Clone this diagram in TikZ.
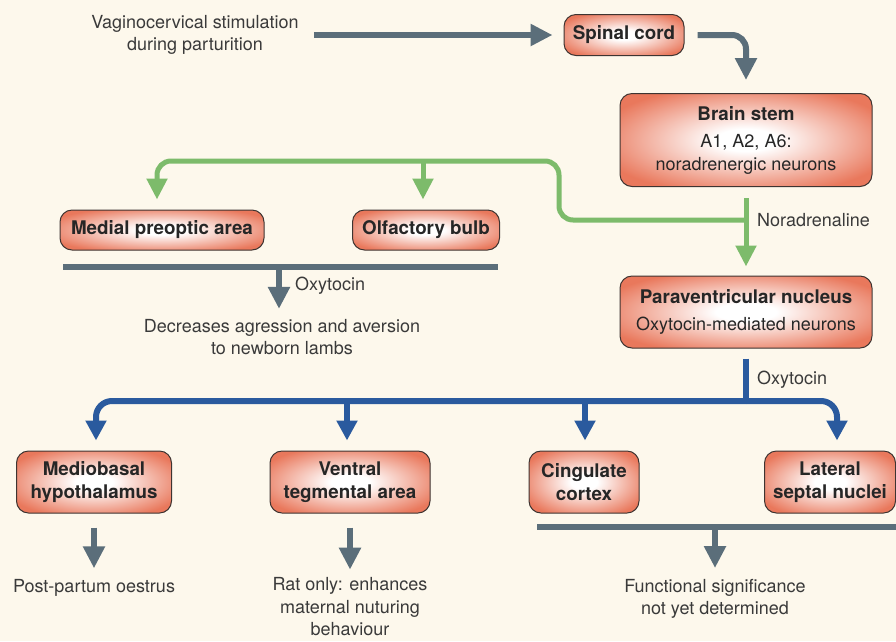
\documentclass[tikz,border=0pt]{standalone}
\usepackage{fontspec}
\setmainfont{TeX Gyre Heros}
\usepackage{tikz}
\usetikzlibrary{arrows.meta}
\usepackage{xcolor}

\definecolor{bgcream}{HTML}{FDF8EC}
\definecolor{salmonedge}{HTML}{E9785C}
\definecolor{boxline}{HTML}{3E3431}
\definecolor{slate}{HTML}{5B6E7A}
\definecolor{leafgreen}{HTML}{7DBB6B}
\definecolor{deepblue}{HTML}{2A5A9E}
\definecolor{txtc}{HTML}{3A3A3A}

\pgfdeclareradialshading{regionshade}{\pgfpoint{0bp}{0bp}}{%
  color(0bp)=(white); color(6bp)=(white); color(30bp)=(salmonedge); color(50bp)=(salmonedge)}

\newcommand{\diagfont}{\fontsize{18}{22.5}\selectfont}
\newcommand{\titlefont}{\fontsize{18.8}{22.5}\selectfont\bfseries}

\begin{document}
\begin{tikzpicture}[x=1pt, y=-1pt,
                  region/.style={draw=boxline, line width=1pt, rounded corners=12pt,
                                 shading=regionshade, align=center, text=black!85,
                                 font=\titlefont, inner sep=2pt},
                  txt/.style={align=center, text=txtc, font=\diagfont, inner sep=0pt},
                  garr/.style={slate, line width=6pt, -{Triangle[width=21pt, length=22pt]}},
                  gbar/.style={slate, line width=6pt},
                  grarr/.style={leafgreen, line width=5pt, -{Triangle[width=20pt, length=21pt]}},
                  bline/.style={deepblue, line width=6pt},
                  barr/.style={deepblue, line width=6pt, -{Triangle[width=20pt, length=20pt]}},
            ]

            % ---- background ----
            \fill[bgcream] (0,0) rectangle (896,641);
            \useasboundingbox (0,0) rectangle (896,641);

            % ---- top row ----
            \node[txt] (stim) at (195,35) {Vaginocervical stimulation\\during parturition};
            \node[region, minimum width=120, minimum height=41] (spinal) at (624,35) {Spinal cord};
            \node[region, minimum width=252, minimum height=93] (brain) at (746,140)
                  {Brain stem\\[5pt]{\diagfont\mdseries A1, A2, A6:}\\{\diagfont\mdseries noradrenergic neurons}};

            % ---- green targets ----
            \node[region, minimum width=204, minimum height=40] (mpoa) at (162,230) {Medial preoptic area};
            \node[region, minimum width=147, minimum height=40] (olf) at (426,230) {Olfactory bulb};
            \node[region, minimum width=252, minimum height=72] (pvn) at (746,312)
                  {Paraventricular nucleus\\[5pt]{\diagfont\mdseries Oxytocin-mediated neurons}};

            \node[txt] (dec) at (282,337) {Decreases agression and aversion\\to newborn lambs};

            % ---- blue targets ----
            \node[region, minimum width=155, minimum height=62] (mbh) at (94,482) {Mediobasal\\hypothalamus};
            \node[region, minimum width=160, minimum height=62] (vta) at (350,482) {Ventral\\tegmental area};
            \node[region, minimum width=110, minimum height=62] (cc) at (584,482) {Cingulate\\cortex};
            \node[region, minimum width=131, minimum height=62] (lsn) at (830,482) {Lateral\\septal nuclei};

            \node[txt] (pp) at (94,588) {Post-partum oestrus};
            \node[txt] (rat) at (350,607) {Rat only: enhances\\maternal nuturing\\behaviour};
            \node[txt] (func) at (715,599) {Functional significance\\not yet determined};

            % ---- gray connectors ----
            \draw[garr, shorten <=15pt, shorten >=11pt] (stim.east |- spinal) -- (spinal.west);
            \draw[garr, rounded corners=14pt, shorten <=13pt, shorten >=13pt] (spinal.east) -| (brain.north);

            % ---- green connectors ----
            \coordinate (na) at (746,220);
            \coordinate (gtop) at (559,161);
            \draw[grarr, shorten <=11pt, shorten >=9pt] (brain.south) -- (pvn.north);
            \draw[grarr, rounded corners=14pt, shorten >=10pt] (na) -| (gtop) -| ([xshift=-5pt]mpoa.north);
            \draw[grarr, shorten >=10pt] ([xshift=-3pt]olf.north |- gtop) -- ([xshift=-3pt]olf.north);
            \node[txt, anchor=west] (nalbl) at ([xshift=11pt]na) {Noradrenaline};

            % ---- gray bar under MPOA / olfactory bulb ----
            \coordinate (bar1l) at (63,267);
            \coordinate (bar1r) at (498,267);
            \coordinate (bar1m) at (279,267);
            \draw[gbar] (bar1l) -- (bar1r);
            \draw[garr, shorten >=10pt] (bar1m) -- (bar1m |- dec.north);
            \node[txt, anchor=west] (oxy1) at (295,286) {Oxytocin};

            % ---- blue connectors ----
            \coordinate (bj) at (746,401);
            \draw[bline, shorten <=10pt] (pvn.south) -- (bj);
            \draw[barr, rounded corners=16pt, shorten >=10pt] (bj) -| ([xshift=2pt]mbh.north);
            \draw[barr, rounded corners=16pt, shorten >=10pt] (bj) -| ([xshift=7pt]lsn.north);
            \draw[barr, shorten >=10pt] ([xshift=-3pt]vta.north |- bj) -- ([xshift=-3pt]vta.north);
            \draw[barr, shorten >=10pt] ([xshift=1pt]cc.north |- bj) -- ([xshift=1pt]cc.north);
            \node[txt, anchor=west] (oxy2) at (757,380) {Oxytocin};

            % ---- lower gray arrows ----
            \draw[garr, shorten <=14pt, shorten >=11pt] (mbh.south) -- (mbh.south |- pp.north);
            \draw[garr, shorten <=14pt, shorten >=8pt] (vta.south) -- (vta.south |- rat.north);
            \coordinate (bar2l) at (537,527);
            \coordinate (bar2r) at (896,527);
            \draw[gbar] (bar2l) -- (bar2r);
            \draw[garr, shorten >=11pt] (func.north |- bar2l) -- (func.north);

      \end{tikzpicture}
\end{document}
